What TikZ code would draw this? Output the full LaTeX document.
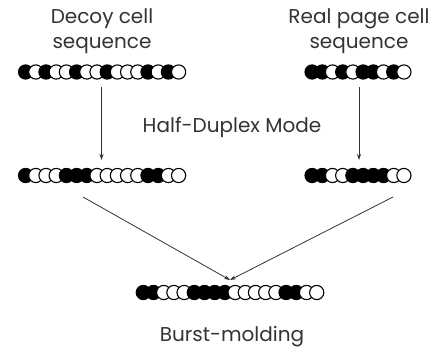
\documentclass[tikz,border=0pt]{standalone}
\usepackage{fontspec}
\setmainfont{Poppins}
\usetikzlibrary{arrows.meta}
\newcommand\cellrow[3]{%
  \foreach \c [count=\i from 0] in {#3} {
    \draw[cell\c] ({#1+\i*10.2},#2) circle (7.1);
  }%
}
\begin{document}
\begin{tikzpicture}[x=1pt,y=-1pt,
  cellB/.style={draw=black,fill=black,line width=1.1pt},
  cellW/.style={draw=black,fill=white,line width=1.1pt},
  seq/.style={minimum height=#1, inner sep=0pt, outer sep=0pt},
  lbl/.style={font=\fontsize{20}{24.5}\selectfont, text=black!80, align=center, inner sep=0pt},
  arr/.style={draw=black!80, line width=0.8pt, -{Stealth[length=6pt,width=4pt]}}]
\useasboundingbox (0,0) rectangle (435,352);
\fill[white] (0,0) rectangle (435,352);
% labels
\node[lbl] (tl) at (102,31) {Decoy cell\\sequence};
\node[lbl] (tr) at (359,31) {Real page cell\\sequence};
\node[lbl] (hd) at (232,127.5) {Half-Duplex Mode};
\node[lbl] (bm) at (232,336.5) {Burst-molding};
% sequence holders
\node[seq=31pt, minimum width=168pt] (decoy) at (101.5,72) {};
\node[seq=31pt, minimum width=108pt] (real) at (359,72) {};
\node[seq=31pt, minimum width=168pt] (midL) at (101.5,175.5) {};
\node[seq=31pt, minimum width=108pt] (midR) at (359,175.5) {};
\node[seq=25pt, minimum width=188pt] (merged) at (230,292.5) {};
% cells
\cellrow{25.6}{72}{B,W,B,W,W,B,W,W,B,W,W,W,B,W,B,W}
\cellrow{312.1}{72}{B,B,W,B,W,B,B,W,B,W}
\cellrow{25.6}{175.5}{B,W,W,W,B,B,B,W,W,W,W,W,B,B,W,W}
\cellrow{312.1}{175.5}{B,B,W,W,B,B,B,B,W,W}
\cellrow{143.3}{292.5}{B,B,W,W,W,B,B,B,B,W,W,W,W,W,B,B,W,W}
% connectors
\draw[arr] (decoy.south) -- (midL.north);
\draw[arr] (real.south) -- (midR.north);
\coordinate (ls) at (83,197);
\coordinate (rs) at (393,197);
\draw[arr] (ls) -- (merged.north);
\draw[arr] (rs) -- (merged.north);
\end{tikzpicture}
\end{document}
